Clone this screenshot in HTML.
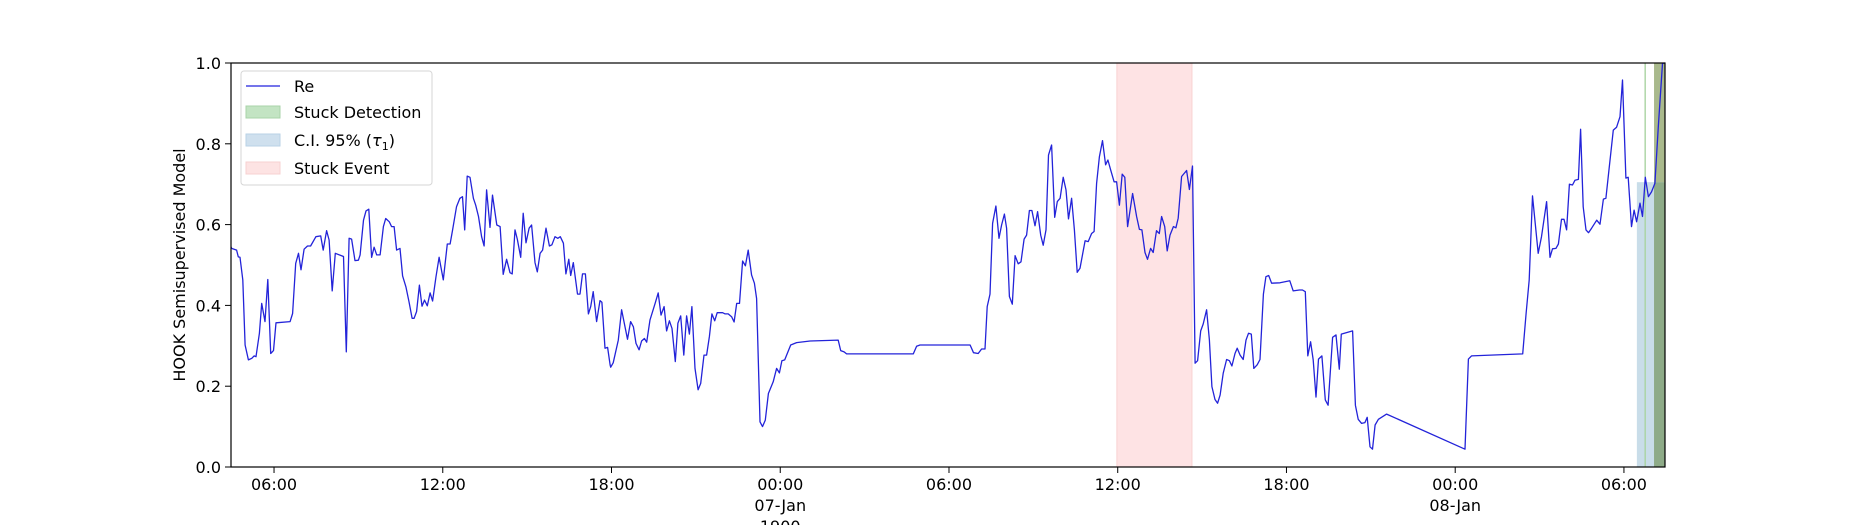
<!DOCTYPE html>
<html><head><meta charset="utf-8"><style>
html,body{margin:0;padding:0;background:#fff;}
svg{display:block;font-family:"DejaVu Sans","Liberation Sans",sans-serif;}
</style></head><body>
<svg id="chart" width="1850" height="525" viewBox="0 0 1850 525" xmlns="http://www.w3.org/2000/svg">
<g id="spans"></g>
<g id="series"></g>
<rect x="231" y="63" width="1434" height="404" fill="none" stroke="#000" stroke-width="1.2"/>
<g id="axes"></g>
<text transform="translate(185,265) rotate(-90)" text-anchor="middle" font-size="16" fill="#000">HOOK Semisupervised Model</text>
<g>
<rect x="241" y="71" width="191" height="114" rx="3" fill="#fff" fill-opacity="0.85" stroke="#d6d6d6"/>
<line x1="246" y1="86" x2="280" y2="86" stroke="#2222dd" stroke-width="1.3"/>
<text x="294" y="92" font-size="16">Re</text>
<rect x="246" y="106" width="34" height="12" fill="#c3e4c3" stroke="#a8d3a8"/>
<text x="294" y="118" font-size="16">Stuck Detection</text>
<rect x="246" y="134" width="34" height="12" fill="#cfe0ee" stroke="#b9d2e6"/>
<text x="294" y="146" font-size="16">C.I. 95% (<tspan font-style="italic">τ</tspan><tspan font-size="11" dy="4">1</tspan><tspan dy="-4">)</tspan></text>
<rect x="246" y="162" width="34" height="12" fill="#fde3e3" stroke="#f7d0d0"/>
<text x="294" y="174" font-size="16">Stuck Event</text>
</g>
</svg>
<script>
// hours since 06-Jan 00:00
const times = [4.47,4.49,4.67,4.73,4.79,4.89,4.97,5.09,5.21,5.29,5.36,5.48,5.56,5.68,5.78,5.88,5.98,6.07,6.57,6.66,6.77,6.87,6.96,7.07,7.19,7.30,7.49,7.66,7.75,7.87,7.96,8.07,8.18,8.47,8.57,8.67,8.76,8.88,9.00,9.06,9.18,9.27,9.37,9.47,9.56,9.65,9.77,9.89,9.97,10.10,10.18,10.27,10.36,10.48,10.57,10.69,10.80,10.91,10.98,11.07,11.17,11.26,11.35,11.45,11.55,11.64,11.76,11.87,12.02,12.16,12.26,12.35,12.49,12.61,12.70,12.78,12.87,12.97,13.09,13.17,13.27,13.38,13.47,13.56,13.68,13.77,13.92,14.04,14.15,14.27,14.39,14.47,14.57,14.65,14.77,14.86,14.96,15.07,15.16,15.28,15.36,15.46,15.55,15.67,15.79,15.88,15.99,16.09,16.18,16.29,16.38,16.48,16.55,16.64,16.79,16.88,16.97,17.07,17.18,17.26,17.35,17.47,17.59,17.66,17.77,17.86,17.95,
17.97,18.06,18.24,18.36,18.48,18.57,18.68,18.78,18.87,18.98,19.07,19.17,19.25,19.37,19.55,19.66,19.76,19.87,19.96,20.06,20.15,20.27,20.36,20.46,20.57,20.67,20.77,20.86,20.97,21.08,21.17,21.29,21.38,21.48,21.57,21.67,21.76,21.95,22.04,22.15,22.27,22.36,22.45,22.55,22.66,22.76,22.86,22.98,23.08,23.16,23.28,23.37,23.47,23.58,23.75,23.87,23.97,24.06,24.16,24.37,24.58,25.06,26.06,26.15,26.27,26.36,28.73,28.85,28.97,30.75,30.87,31.04,
31.16,31.28,31.36,31.46,31.55,31.67,31.78,31.87,31.97,32.05,32.15,32.25,32.35,32.46,32.56,32.67,32.76,32.86,32.95,33.06,33.15,33.26,33.35,33.45,33.54,33.65,33.76,33.85,33.95,34.06,34.16,34.25,34.36,34.46,34.56,34.66,34.84,34.95,35.07,35.16,35.25,35.35,35.46,35.57,35.65,35.75,35.87,35.96,36.06,36.16,36.25,36.35,36.53,36.67,36.77,36.86,36.97,37.06,37.17,37.26,37.38,37.48,37.56,37.67,37.76,37.86,37.98,38.07,38.15,38.27,38.45,38.55,38.66,38.75,38.84,38.95,39.04,39.16,39.26,39.35,39.46,39.55,39.64,39.75,39.87,39.97,40.06,40.17,40.25,40.35,40.46,40.56,40.65,40.75,40.84,40.96,41.06,41.18,41.27,41.37,41.47,41.77,42.12,42.24,42.46,42.57,42.67,42.76,42.86,42.95,43.05,43.14,43.26,43.38,43.48,43.64,43.76,43.88,
43.95,44.35,44.45,44.55,44.67,44.79,44.87,44.97,45.06,45.15,45.27,45.56,48.35,48.47,48.58,50.40,50.52,50.63,50.75,50.95,51.07,51.25,51.37,51.46,51.58,51.67,51.78,51.87,51.96,52.06,52.17,52.26,52.38,52.46,52.55,52.65,52.74,52.85,53.03,53.15,53.27,53.36,53.48,53.62,53.74,53.86,53.95,54.07,54.15,54.27,54.36,54.45,54.57,54.66,54.76,54.87,54.98,55.10,55.22,55.37,55.46];
const values = [0.545,0.541,0.537,0.520,0.519,0.463,0.302,0.265,0.269,0.275,0.273,0.331,0.405,0.360,0.464,0.281,0.288,0.357,0.360,0.380,0.504,0.529,0.488,0.539,0.547,0.547,0.570,0.572,0.537,0.585,0.562,0.436,0.529,0.521,0.285,0.566,0.564,0.511,0.512,0.525,0.611,0.634,0.638,0.519,0.544,0.525,0.525,0.595,0.615,0.607,0.595,0.595,0.537,0.541,0.473,0.446,0.409,0.368,0.368,0.385,0.450,0.398,0.413,0.399,0.431,0.411,0.471,0.519,0.463,0.552,0.552,0.587,0.644,0.665,0.669,0.587,0.720,0.717,0.665,0.648,0.620,0.570,0.547,0.686,0.593,0.673,0.599,0.595,0.477,0.514,0.481,0.478,0.587,0.564,0.519,0.628,0.555,0.591,0.599,0.506,0.483,0.529,0.537,0.591,0.547,0.550,0.570,0.566,0.570,0.554,0.478,0.514,0.474,0.506,0.428,0.428,0.478,0.478,0.379,0.397,0.434,0.360,0.412,0.408,0.294,0.296,0.253,
0.247,0.258,0.314,0.389,0.347,0.316,0.360,0.347,0.306,0.290,0.312,0.318,0.309,0.364,0.405,0.431,0.376,0.397,0.337,0.362,0.343,0.261,0.356,0.374,0.277,0.374,0.329,0.397,0.244,0.191,0.207,0.277,0.277,0.323,0.379,0.362,0.382,0.382,0.379,0.379,0.372,0.359,0.405,0.405,0.510,0.498,0.537,0.475,0.455,0.417,0.112,0.100,0.116,0.182,0.211,0.244,0.233,0.263,0.265,0.302,0.308,0.312,0.314,0.288,0.285,0.280,0.280,0.299,0.302,0.302,0.283,0.281,
0.292,0.292,0.397,0.428,0.603,0.646,0.566,0.599,0.626,0.591,0.422,0.403,0.523,0.503,0.508,0.564,0.574,0.635,0.635,0.597,0.632,0.574,0.549,0.587,0.772,0.797,0.618,0.657,0.665,0.717,0.686,0.614,0.665,0.587,0.482,0.492,0.560,0.558,0.578,0.583,0.702,0.768,0.808,0.748,0.760,0.735,0.706,0.706,0.648,0.725,0.717,0.595,0.677,0.620,0.588,0.587,0.531,0.514,0.541,0.531,0.585,0.578,0.620,0.595,0.535,0.574,0.595,0.592,0.616,0.719,0.734,0.687,0.745,0.257,0.263,0.337,0.354,0.389,0.314,0.199,0.167,0.158,0.178,0.232,0.266,0.263,0.250,0.281,0.294,0.277,0.266,0.314,0.331,0.329,0.244,0.253,0.266,0.428,0.471,0.474,0.455,0.456,0.461,0.436,0.438,0.438,0.434,0.275,0.310,0.265,0.173,0.267,0.275,0.166,0.153,0.321,0.327,0.242,
0.329,0.337,0.153,0.118,0.108,0.110,0.123,0.050,0.044,0.104,0.118,0.131,0.044,0.267,0.275,0.280,0.380,0.463,0.671,0.529,0.570,0.657,0.519,0.540,0.541,0.552,0.613,0.613,0.587,0.700,0.698,0.710,0.712,0.836,0.644,0.587,0.580,0.591,0.611,0.601,0.663,0.665,0.743,0.834,0.841,0.867,0.958,0.715,0.717,0.595,0.636,0.607,0.653,0.620,0.717,0.669,0.681,0.702,0.842,0.999,1.0];
const xTicks = [6,12,18,24,30,36,42,48,54];
const xTickLabels = [["06:00"],["12:00"],["18:00"],["00:00","07-Jan","1900"],["06:00"],["12:00"],["18:00"],["00:00","08-Jan"],["06:00"]];
const yTicks = [0,0.2,0.4,0.6,0.8,1.0];
const yTickLabels = ["0.0","0.2","0.4","0.6","0.8","1.0"];
const eventSpan = [35.97,38.64];
const ciSpan = [54.46,55.46];
const ciLevel = 0.705;
const detectLine = [54.73,54.78];
const detectSpan = [55.07,55.46];

const X0=231,X1=1665,Y0=467,Y1=63,T0=4.47,T1=55.46;
const xs=t=>X0+(t-T0)/(T1-T0)*(X1-X0);
const ys=v=>Y0-v*(Y0-Y1);
const NS="http://www.w3.org/2000/svg";
function mk(tag,attrs,parent){const e=document.createElementNS(NS,tag);for(const k in attrs)e.setAttribute(k,attrs[k]);parent.appendChild(e);return e;}
const spans=document.getElementById('spans');
let r=mk('rect',{x:xs(eventSpan[0]),y:Y1,width:xs(eventSpan[1])-xs(eventSpan[0]),height:Y0-Y1,fill:'#fee3e4',stroke:'#f8d2d2'},spans);


r=mk('rect',{x:xs(ciSpan[0]),y:ys(ciLevel),width:xs(ciSpan[1])-xs(ciSpan[0]),height:Y0-ys(ciLevel),fill:'#c9dde9'},spans);


r=mk('rect',{x:xs(detectLine[0]),y:Y1,width:xs(detectLine[1])-xs(detectLine[0]),height:Y0-Y1,fill:'#a9d4a2'},spans);


r=mk('rect',{x:xs(detectSpan[0]),y:Y1,width:xs(detectSpan[1])-xs(detectSpan[0]),height:ys(ciLevel)-Y1,fill:'#a9b98c'},spans);


r=mk('rect',{x:xs(detectSpan[0]),y:ys(ciLevel),width:xs(detectSpan[1])-xs(detectSpan[0]),height:Y0-ys(ciLevel),fill:'#8eab88'},spans);


const series=document.getElementById('series');
let d=times.map((t,i)=>(i?'L':'M')+xs(t).toFixed(1)+','+ys(values[i]).toFixed(1)).join('');
const p=mk('path',{d:d,fill:'none',stroke:'#2323d9','stroke-width':1.3,'stroke-linejoin':'round'},series);


const axes=document.getElementById('axes');
xTicks.forEach((t,i)=>{
  const x=xs(t);
  const tk=mk('line',{x1:x,y1:Y0,x2:x,y2:Y0+6,stroke:'#000','stroke-width':1},axes);
  
  
  xTickLabels[i].forEach((s,j)=>{
    const tx=mk('text',{x:x,y:490+j*21,'text-anchor':'middle','font-size':16},axes);
    tx.textContent=s;
    
    
  });
});
yTicks.forEach((v,i)=>{
  const y=ys(v);
  const tk=mk('line',{x1:X0-6,y1:y,x2:X0,y2:y,stroke:'#000','stroke-width':1},axes);
  
  
  const tx=mk('text',{x:X0-10,y:y+6,'text-anchor':'end','font-size':16},axes);
  tx.textContent=yTickLabels[i];
  
  
});
</script>
</body></html>
